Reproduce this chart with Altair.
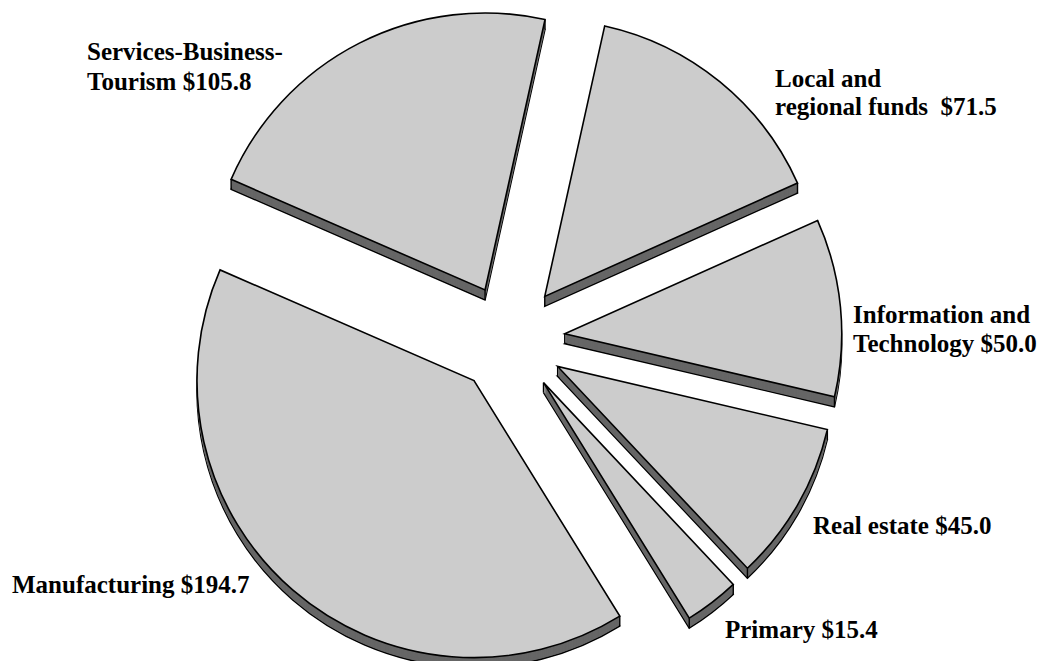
import math
import altair as alt
import pandas as pd

# ---- data ----
categories = [
    "Local and regional funds",
    "Information and Technology",
    "Real estate",
    "Primary",
    "Manufacturing",
    "Services-Business-Tourism",
]
values = [71.5, 50.0, 45.0, 15.4, 194.7, 105.8]
label_lines = [
    ["Local and", "regional funds \u00a0$71.5"],
    ["Information and", "Technology $50.0"],
    ["Real estate $45.0"],
    ["Primary $15.4"],
    ["Manufacturing $194.7"],
    ["Services-Business-", "Tourism $105.8"],
]

# ---- layout ----
W, H = 1038, 653
CX, CY = 502, 331          # pie centre (plot coords)
R = 277                    # radius
EXP = 55                   # explode distance
DEPTH = 10                 # 3-D thickness
START = 12.5 * math.pi / 180
TOP = "#cccccc"
SIDE = "#666666"

df = pd.DataFrame({"category": categories, "value": values, "order": list(range(len(values)))})

xs = alt.Scale(domain=[0, W], nice=False, zero=False)
ys = alt.Scale(domain=[0, H], nice=False, zero=False, reverse=True)

base = (
    alt.Chart(df)
    .transform_window(cum="sum(value)", sort=[alt.SortField("order")], frame=[None, 0])
    .transform_joinaggregate(total="sum(value)")
    .transform_calculate(
        t0=f"{START} + 2*PI*(datum.cum - datum.value)/datum.total",
        t1=f"{START} + 2*PI*datum.cum/datum.total",
    )
    .transform_calculate(mid="(datum.t0 + datum.t1)/2")
    .transform_calculate(
        px=f"{CX} + {EXP}*sin(datum.mid)",
        py=f"{CY} - {EXP}*cos(datum.mid)",
    )
)


def arc_layer(k, fill, stroke=None, sw=0):
    props = dict(radius=R, fill=fill)
    if stroke:
        props.update(stroke=stroke, strokeWidth=sw, strokeJoin="miter")
    else:
        props.update(strokeWidth=0)
    return (
        base.transform_calculate(pyk=f"datum.py + {k}")
        .mark_arc(**props)
        .encode(
            theta=alt.Theta("t0:Q", scale=None),
            theta2="t1:Q",
            x=alt.X("px:Q", scale=xs, axis=None),
            y=alt.Y("pyk:Q", scale=ys, axis=None),
        )
    )


layers = [arc_layer(DEPTH, SIDE, "black", 1.4)]
for k in range(DEPTH - 1, 0, -1):
    layers.append(arc_layer(k, SIDE))

# vertical edges at the corners of the extrusion
def corner_rule(expr_x, expr_y):
    return (
        base.transform_calculate(cx=expr_x, cy=expr_y)
        .transform_calculate(cy2=f"datum.cy + {DEPTH}")
        .mark_rule(color="black", strokeWidth=1.4)
        .encode(
            x=alt.X("cx:Q", scale=xs, axis=None),
            y=alt.Y("cy:Q", scale=ys, axis=None),
            y2="cy2:Q",
        )
    )

layers.append(corner_rule("datum.px", "datum.py"))
layers.append(corner_rule(f"datum.px + {R}*sin(datum.t0)", f"datum.py - {R}*cos(datum.t0)"))
layers.append(corner_rule(f"datum.px + {R}*sin(datum.t1)", f"datum.py - {R}*cos(datum.t1)"))

layers.append(arc_layer(0, TOP, "black", 1.6))

# ---- labels ----
label_pos = [
    [(767, 79), (767, 107)],
    [(845, 315), (845, 344)],
    [(805, 526)],
    [(717, 630)],
    [(4, 585)],
    [(79, 52), (79, 82)],
]
for lines, poss in zip(label_lines, label_pos):
    for line, (lx, ly) in zip(lines, poss):
        layers.append(
            alt.Chart(pd.DataFrame({"t": [line]}))
            .mark_text(
                font="Liberation Serif",
                fontWeight="bold",
                fontSize=25,
                align="left",
                baseline="alphabetic",
                color="black",
            )
            .encode(x=alt.value(lx), y=alt.value(ly), text="t:N")
        )

chart = (
    alt.layer(*layers)
    .properties(width=W, height=H, padding=0, autosize=alt.AutoSizeParams(type="none"))
    .configure_view(stroke=None)
)

chart.save("out.html", embed_options={"renderer": "svg", "actions": False})
